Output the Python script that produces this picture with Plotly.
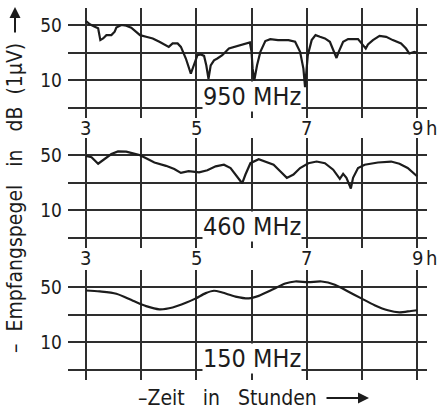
import plotly.graph_objects as go

# ---------------- data ----------------
hours_950 = [3.0, 3.07, 3.16, 3.22, 3.26, 3.31, 3.37, 3.46, 3.52, 3.55, 3.64, 3.73, 3.82, 3.91, 3.98,
             4.09, 4.21, 4.33, 4.42, 4.5, 4.57, 4.66, 4.72, 4.81, 4.9, 4.96, 5.02, 5.08, 5.14, 5.18,
             5.22, 5.26, 5.32, 5.38, 5.47, 5.59, 5.77, 5.92, 5.97, 6.0, 6.02, 6.05, 6.1, 6.16, 6.25,
             6.34, 6.48, 6.67, 6.79, 6.88, 6.94, 6.97, 7.02, 7.09, 7.16, 7.24, 7.33, 7.42, 7.5, 7.54,
             7.58, 7.66, 7.75, 7.93, 8.02, 8.07, 8.11, 8.2, 8.32, 8.44, 8.56, 8.65, 8.71, 8.8, 8.86,
             8.95, 9.0]
level_950 = [52.9, 50.5, 48.8, 47.6, 39.1, 40.3, 42.7, 42.7, 45.2, 48.1, 50.0, 49.5, 48.1, 45.2, 42.7,
             41.5, 40.3, 37.9, 35.9, 34.2, 36.7, 36.7, 34.2, 25.8, 14.9, 20.9, 28.2, 28.7, 27.7, 20.9,
             11.2, 20.9, 24.5, 25.8, 28.2, 33.0, 35.0, 36.7, 37.4, 30.6, 18.5, 10.0, 20.9, 30.6, 38.4,
             39.8, 39.1, 39.1, 37.9, 30.6, 18.5, 5.2, 28.2, 39.1, 42.7, 41.5, 40.3, 37.9, 30.6, 26.2,
             30.6, 37.9, 39.8, 39.8, 35.5, 33.0, 36.0, 39.1, 42.2, 41.5, 39.1, 37.4, 36.7, 33.0, 29.4,
             30.6, 30.0]

hours_460 = [3.0, 3.1, 3.22, 3.34, 3.46, 3.58, 3.73, 3.85, 3.97, 4.09, 4.24, 4.45, 4.6, 4.72, 4.86,
             5.05, 5.2, 5.35, 5.5, 5.62, 5.74, 5.83, 5.89, 5.98, 6.13, 6.25, 6.4, 6.52, 6.64, 6.76,
             6.88, 7.03, 7.18, 7.33, 7.48, 7.6, 7.66, 7.72, 7.76, 7.8, 7.84, 7.93, 8.05, 8.29, 8.53,
             8.68, 8.83, 8.95, 9.0]
level_460 = [49.3, 48.4, 43.7, 46.9, 50.7, 52.6, 52.4, 51.2, 50.0, 47.6, 44.6, 42.2, 39.9, 37.1, 38.3,
             37.5, 39.0, 41.8, 43.0, 40.6, 34.7, 29.6, 35.9, 44.1, 46.9, 45.3, 43.0, 38.3, 33.5, 35.9,
             40.6, 44.1, 45.3, 44.1, 39.4, 32.8, 36.4, 33.5, 30.0, 25.8, 33.5, 40.6, 43.0, 44.6, 45.3,
             43.7, 40.6, 36.6, 34.7]

hours_150 = [3.0, 3.25, 3.55, 3.85, 4.09, 4.33, 4.57, 4.81, 4.99, 5.17, 5.32, 5.47, 5.71, 5.95, 6.13,
             6.37, 6.61, 6.79, 7.03, 7.27, 7.51, 7.75, 7.99, 8.23, 8.47, 8.68, 8.89, 9.0]
level_150 = [47.5, 46.8, 45.1, 40.1, 36.2, 33.9, 35.2, 38.6, 41.8, 45.6, 47.3, 46.0, 43.1, 41.8, 43.6,
             48.0, 52.5, 54.0, 53.5, 54.0, 51.7, 46.8, 41.8, 36.9, 33.2, 31.7, 32.7, 33.2]

panel_labels = ["950 MHz", "460 MHz", "150 MHz"]
x_tick_vals = [3, 4, 5, 6, 7, 8, 9]
x_label_vals = [3, 5, 7, 9]
y_grid_vals = [50, 30, 10, -10]
y_grid_text = ["50", "", "10", ""]

# ---------------- layout geometry ----------------
W, H = 441, 409
ML, MR = 68, 14
PW = W - ML - MR
YR = [-17, 62]
XR = [2.674, 9.18]
INK = "#1c1c1c"
GRID = "#2e2e2e"
FONT = "DejaVu Sans Condensed, DejaVu Sans, sans-serif"

def fy(px):
    return 1 - px / H

def fx(px):
    return (px - ML) / PW

# (top px, bottom px) of each panel
panels_px = [(8.4, 117.8), (138.4, 247.8), (270.4, 379.8)]

fig = go.Figure()
series = [(hours_950, level_950, "linear"), (hours_460, level_460, "linear"), (hours_150, level_150, "spline")]

for i, ((xs, ys, shape), (top, bot)) in enumerate(zip(series, panels_px)):
    n = "" if i == 0 else str(i + 1)
    fig.add_trace(go.Scatter(x=xs, y=ys, mode="lines", xaxis="x" + n, yaxis="y" + n,
                             line=dict(color=INK, width=2.2, shape=shape, smoothing=0.8),
                             showlegend=False, hoverinfo="skip"))
    fig.layout["xaxis" + n] = dict(domain=[0, 1], range=XR, anchor="y" + n,
                                   tickvals=x_tick_vals, showticklabels=False, ticks="",
                                   showgrid=True, gridcolor=GRID, gridwidth=1.5, automargin=False,
                                   zeroline=False, showline=False, fixedrange=True)
    fig.layout["yaxis" + n] = dict(domain=[fy(bot), fy(top)], range=YR, anchor="x" + n,
                                   tickvals=y_grid_vals, ticktext=y_grid_text, ticks="",
                                   ticklabelstandoff=5, automargin=False,
                                   tickfont=dict(family=FONT, size=19, color=INK),
                                   showgrid=True, gridcolor=GRID, gridwidth=1.5,
                                   zeroline=False, showline=False, fixedrange=True)
    # frequency label with white box
    fig.add_annotation(x=6, y=-1.5, xref="x" + n, yref="y" + n, text=panel_labels[i],
                       showarrow=False, bgcolor="white", borderpad=0,
                       font=dict(family=FONT, size=25, color=INK),
                       xanchor="center", yanchor="middle")

# x tick labels below panel 1 and 2
for ypx in [128, 258]:
    for v in x_label_vals:
        fig.add_annotation(x=v, y=fy(ypx), xref="x", yref="paper", text=str(v),
                           showarrow=False, font=dict(family=FONT, size=20, color=INK),
                           xanchor="center", yanchor="middle")
    fig.add_annotation(x=fx(424), y=fy(ypx), xref="paper", yref="paper", text="h",
                       showarrow=False, font=dict(family=FONT, size=20, color=INK),
                       xanchor="left", yanchor="middle")

# axis titles
fig.add_annotation(x=fx(227), y=fy(398), xref="paper", yref="paper",
                   text="–Zeit   in   Stunden", showarrow=False,
                   font=dict(family=FONT, size=21, color=INK), xanchor="center", yanchor="middle")
fig.add_annotation(x=fx(369), y=fy(398), xref="paper", yref="paper", text="",
                   showarrow=True, ax=-44, ay=0, arrowhead=2, arrowsize=1.1, arrowwidth=2,
                   arrowcolor=INK, standoff=0)

fig.add_annotation(x=fx(15), y=fy(198), xref="paper", yref="paper",
                   text="–  Empfangspegel   in   dB  (1µV)", textangle=-90, showarrow=False,
                   font=dict(family=FONT, size=21, color=INK), xanchor="center", yanchor="middle")
fig.add_annotation(x=fx(15), y=fy(7), xref="paper", yref="paper", text="",
                   showarrow=True, ax=0, ay=27, arrowhead=2, arrowsize=1.1, arrowwidth=2,
                   arrowcolor=INK, standoff=0)

fig.update_layout(width=W, height=H, margin=dict(l=ML, r=MR, t=0, b=0),
                  paper_bgcolor="white", plot_bgcolor="white", showlegend=False)

fig.write_html("out.html", config={"displayModeBar": False},
               post_script="document.body.style.margin='0';")
